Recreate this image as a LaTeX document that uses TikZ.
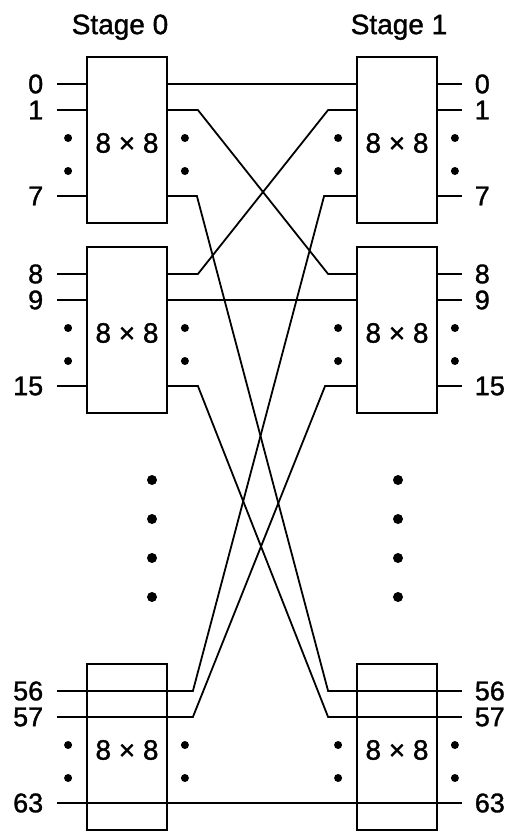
\documentclass[tikz,border=0pt]{standalone}
\usepackage{fontspec}
\setmainfont{Liberation Sans}
\newfontfamily\swfont[FakeBold=1.2]{Liberation Sans}
\usetikzlibrary{positioning}

\begin{document}
\begin{tikzpicture}[x=1pt,y=-1pt,line width=1.8pt,node distance=190pt,on grid,
    sw/.style={draw,minimum width=80pt,minimum height=166pt,inner sep=0pt,
      font=\swfont\fontsize{28}{30}\selectfont},
    title/.style={font=\swfont\fontsize{28}{30}\selectfont},
    lbl/.style={font=\swfont\fontsize{27}{30}\selectfont,inner sep=0pt},
    dot/.style={circle,fill,inner sep=0pt,minimum size=8pt},
    bigdot/.style={circle,fill,inner sep=0pt,minimum size=10pt}]

    \useasboundingbox (0,0) rectangle (508,832);

    % stage 0
    \node[sw] (a0) at (127,140) {};
    \node[sw] (a1) [below=of a0] {};
    \node[sw] (a7) [below=417pt of a1] {};
    % stage 1
    \node[sw] (b0) [right=270pt of a0] {};
    \node[sw] (b1) [below=of b0] {};
    \node[sw] (b7) [below=417pt of b1] {};

    \node[title,anchor=base] (t0) at ([xshift=-7pt,yshift=22pt]a0.north) {Stage 0};
    \node[title,anchor=base] (t1) at ([xshift=2pt,yshift=22pt]b0.north) {Stage 1};

    % ports, text and dots of every switch
    \foreach \n in {a0,a1,a7,b0,b1,b7} {
      \foreach \p/\dy in {0/56,1/30,7/-56} {
        \coordinate (\n w\p) at ([yshift=\dy pt]\n.west);
        \coordinate (\n e\p) at ([yshift=\dy pt]\n.east);
      }
      \node[sw,draw=none] (\n txt) at ([yshift=-3pt]\n.center) {8 × 8};
      \node[dot] (\n dl1) at ([xshift=-18pt,yshift=2pt]\n.west) {};
      \node[dot] (\n dl2) at ([xshift=-18pt,yshift=-31pt]\n.west) {};
      \node[dot] (\n dr1) at ([xshift=17pt,yshift=2pt]\n.east) {};
      \node[dot] (\n dr2) at ([xshift=17pt,yshift=-31pt]\n.east) {};
    }

    % inputs of stage 0
    \foreach \n/\x/\y/\z in {a0/0/1/7,a1/8/9/15,a7/56/57/63} {
      \draw (\n w0) -- ++(-29,0) node[lbl,anchor=east,xshift=-13pt] (\n in0) {\x};
      \draw (\n w1) -- ++(-29,0) node[lbl,anchor=east,xshift=-13pt] (\n in1) {\y};
      \draw (\n w7) -- ++(-29,0) node[lbl,anchor=east,xshift=-13pt] (\n in7) {\z};
    }
    % outputs of stage 1
    \foreach \n/\x/\y/\z in {b0/0/1/7,b1/8/9/15,b7/56/57/63} {
      \draw (\n e0) -- ++(24,0) node[lbl,anchor=west,xshift=12pt] (\n out0) {\x};
      \draw (\n e1) -- ++(24,0) node[lbl,anchor=west,xshift=12pt] (\n out1) {\y};
      \draw (\n e7) -- ++(24,0) node[lbl,anchor=west,xshift=12pt] (\n out7) {\z};
    }

    % lines run through the last switches
    \foreach \p in {0,1,7} {
      \draw (a7w\p) -- (a7e\p);
      \draw (b7w\p) -- (b7e\p);
    }

    % shuffle between the stages
    \draw (a0e0) -- (b0w0);
    \draw (a0e1) -- ++(30,0) -- ([xshift=-28pt]b1w0) -- (b1w0);
    \draw (a0e7) -- ++(29,0) -- ([xshift=-28pt]b7w0) -- (b7w0);
    \draw (a1e0) -- ++(30,0) -- ([xshift=-28pt]b0w1) -- (b0w1);
    \draw (a1e1) -- (b1w1);
    \draw (a1e7) -- ++(30,0) -- ([xshift=-28pt]b7w1) -- (b7w1);
    \draw (a7e0) -- ++(25,0) -- ([xshift=-32pt]b0w7) -- (b0w7);
    \draw (a7e1) -- ++(25,0) -- ([xshift=-31pt]b1w7) -- (b1w7);
    \draw (a7e7) -- (b7w7);

    % more switches
    \foreach \i in {0,...,3} {
      \node[bigdot] (ma\i) at (152,480+39*\i) {};
      \node[bigdot] (mb\i) at (398,480+39*\i) {};
    }
\end{tikzpicture}
\end{document}
